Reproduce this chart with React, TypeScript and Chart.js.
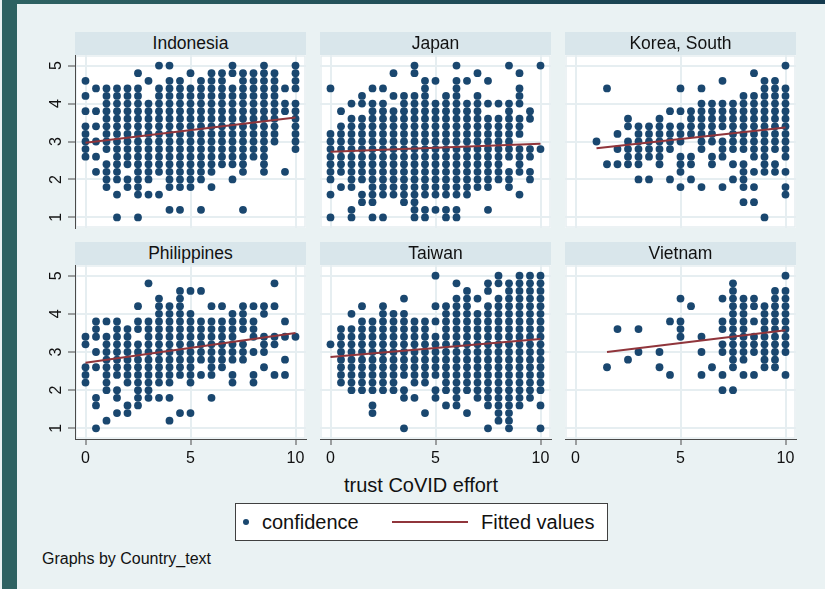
import React, { useEffect, useRef } from "react";
import { Chart, registerables } from "chart.js";

Chart.register(...registerables);

// ---------------- DATA ----------------
const countries = ["Indonesia", "Japan", "Korea, South", "Philippines", "Taiwan", "Vietnam"];

// x values (trust CoVID effort) for the 21 columns of every panel
const xValues = [0, 0.5, 1, 1.5, 2, 2.5, 3, 3.5, 4, 4.5, 5, 5.5, 6, 6.5, 7, 7.5, 8, 8.5, 9, 9.5, 10];

// confidence values present at each x (one string per x value)
const indonesia = [
  "4.6 4.2 3.8 3.4 3.2 3 2.8 2.6",
  "4.4 3.8 3.4 3 2.6 2.2",
  "4.4 4.2 4 3.8 3.6 3.4 3.2 3 2.8 2.4 2.2 2 1.8",
  "4.4 4.2 4 3.8 3.6 3.4 3.2 3 2.8 2.6 2.4 2.2 2 1.6 1",
  "4.4 4.2 4 3.8 3.6 3.4 3.2 3 2.8 2.6 2.4 2 1.8",
  "4.8 4.4 4.2 4 3.8 3.6 3.4 3.2 3 2.8 2.6 2.4 2.2 2 1.8 1.6 1",
  "4.6 4 3.8 3.6 3.4 3.2 3 2.8 2.6 2.4 2.2 2 1.6",
  "5 4.4 4.2 4 3.8 3.6 3.4 3.2 3 2.8 2.6 2.4 2.2 1.6",
  "5 4.6 4.4 4.2 4 3.8 3.6 3.4 3.2 3 2.8 2.6 2.4 2.2 2 1.8 1.2",
  "4.6 4.4 4.2 4 3.8 3.6 3.4 3.2 3 2.8 2.6 2.4 2.2 2 1.8 1.2",
  "4.8 4.4 4.2 4 3.8 3.6 3.4 3.2 3 2.8 2.6 2.4 2.2 2 1.8",
  "4.6 4.4 4.2 4 3.8 3.6 3.4 3.2 3 2.8 2.6 2.4 2.2 2 1.2",
  "4.8 4.6 4.4 4.2 4 3.8 3.6 3.4 3.2 3 2.8 2.6 2.4 2.2 1.8",
  "4.8 4.6 4.4 4.2 4 3.8 3.6 3.4 3.2 3 2.8 2.6 2.4",
  "5 4.8 4.4 4.2 4 3.8 3.6 3.4 3.2 3 2.8 2.6 2.4 2",
  "4.8 4.6 4.4 4.2 4 3.8 3.6 3.4 3.2 3 2.8 2.6 2.4 2.2 1.2",
  "4.8 4.6 4.4 4.2 4 3.8 3.6 3.4 3.2 3 2.8 2.6",
  "5 4.8 4.6 4.4 4.2 4 3.8 3.6 3.4 3.2 3 2.8 2.6 2.4 2.2",
  "4.8 4.6 4.4 4.2 4 3.8 3.6 3.4 3.2 3",
  "4.4 4 3.8 2.2",
  "5 4.8 4.6 4.4 4 3.8 3.6 3.4 3.2 3 2.8",
];

const japan = [
  "4.4 3.2 3 2.8 2.6 2.4 2.2 2 1.6 1",
  "3.8 3.4 3.2 3 2.8 2.6 2.4 2.2 1.8",
  "4 3.6 3.4 3.2 3 2.8 2.6 2.4 2.2 2 1.8 1.2 1",
  "4.2 4 3.6 3.4 3.2 3 2.8 2.6 2.4 2.2 2 1.6 1.4",
  "4.4 4 3.8 3.6 3.4 3.2 3 2.8 2.6 2.4 2.2 2 1.8 1.6 1.4 1",
  "4.4 4 3.8 3.6 3.4 3.2 3 2.8 2.6 2.4 2.2 2 1.8 1.6 1",
  "4.8 4.2 3.8 3.6 3.4 3.2 3 2.8 2.6 2.4 2.2 2 1.8 1.6",
  "4.2 4 3.8 3.6 3.4 3.2 3 2.8 2.6 2.4 2.2 2 1.8 1.6 1.4",
  "5 4.8 4.2 4 3.8 3.6 3.4 3.2 3 2.8 2.6 2.4 2.2 2 1.8 1.6 1.4 1.2 1",
  "4.6 4.4 4.2 4 3.8 3.6 3.4 3.2 3 2.8 2.6 2.4 2.2 2 1.8 1.6 1.2 1",
  "4.6 4 3.8 3.6 3.4 3.2 3 2.8 2.6 2.4 2.2 2 1.8 1.6 1.2",
  "4.2 4 3.8 3.6 3.4 3.2 3 2.8 2.6 2.4 2.2 2 1.8 1.6 1.2 1",
  "5 4.6 4.4 4.2 4 3.8 3.6 3.4 3.2 3 2.8 2.6 2.4 2.2 2 1.8 1.6 1.2 1",
  "4.6 4 3.8 3.6 3.4 3.2 3 2.8 2.6 2.4 2.2 2 1.8 1.6",
  "4.8 4.2 4 3.8 3.6 3.4 3.2 3 2.8 2.6 2.4 2.2 2 1.8",
  "4.6 4 3.6 3.4 3.2 3 2.8 2.6 2.4 2.2 2 1.8 1.2",
  "4 3.6 3.4 3.2 3 2.8 2.6 2.4 2.2 2",
  "5 4 3.8 3.6 3.4 3.2 3 2.8 2.6 2.2 2 1.8",
  "4.8 4.4 4.2 4 3.6 3.4 3.2 2.8 2.6 2.4 2.2 1.6",
  "3.8 3.6 2.8 2.6 2.2 2",
  "5 2.8",
];

const korea = [
  "",
  "",
  "3",
  "4.4 2.4",
  "3.2 2.8 2.4",
  "3.6 3.4 3 2.8 2.6 2.4",
  "3.4 3.2 3 2.8 2.6 2.4 2",
  "3.4 3.2 3 2.8 2.6 2",
  "3.6 3.4 3.2 3 2.8 2.6 2.4",
  "3.8 3.4 3.2 3 2.8 2",
  "4.4 3.8 3.4 3.2 3 2.6 2.4 2.2 1.8",
  "3.8 3.6 3.4 3.2 2.6 2.4 2",
  "4.4 4 3.8 3.6 3.4 3.2 3 2.8 1.8",
  "4 3.8 3.6 3.4 3.2 3 2.6 2.4",
  "4.6 4 3.8 3.6 3.4 3 2.8 2.6 1.8",
  "4 3.8 3.6 3.4 3.2 3 2.8 2.4 2",
  "4.2 4 3.8 3.6 3.4 3.2 3 2.8 2.4 2.2 2 1.8 1.4",
  "4.8 4.2 4 3.8 3.6 3.4 3.2 3 2.8 2.6 2.2 1.8 1.4",
  "4.6 4.4 4.2 4 3.8 3.6 3.4 3.2 3 2.8 2.6 2.4 2.2 1",
  "4.6 4.4 4.2 4 3.8 3.6 3.4 3.2 3 2.8 2.4 2.2",
  "5 4.4 4.2 4 3.8 3.6 3.4 3.2 3 2.8 2.6 2.2 1.8 1.6",
];

const philippines = [
  "3.4 3.2 2.6 2.4 2.2",
  "3.8 3.6 3.4 3 2.6 1.8 1.6 1",
  "3.8 3.4 3.2 3 2.8 2.6 2.4 2.2 2 1.2",
  "3.8 3.6 3.4 3.2 3 2.8 2.6 2.4 2 1.8 1.4",
  "3.6 3.4 3.2 3 2.8 2.6 2.4 2.2 1.6 1.4",
  "4.2 3.8 3.6 3.2 3 2.8 2.6 2.4 2.2 2 1.8 1.6",
  "4.8 3.8 3.6 3.4 3.2 3 2.8 2.6 2.4 2.2 2 1.8",
  "4.4 4.2 4 3.8 3.6 3.4 3.2 3 2.8 2.6 2.4 2.2 1.8",
  "4.2 4 3.8 3.6 3.4 3.2 3 2.8 2.6 2.4 2.2 1.8 1.2",
  "4.6 4.4 4.2 4 3.8 3.6 3.4 3.2 3 2.8 2.6 2.4 1.4",
  "4.6 4 3.8 3.6 3.4 3.2 3 2.8 2.6 2.4 2.2 1.4",
  "4.6 3.8 3.6 3.4 3.2 3 2.8 2.4",
  "4.2 3.8 3.6 3.4 3.2 3 2.8 2.6 2.4 1.8",
  "4.2 3.8 3.6 3.4 3.2 3 2.8 2.6",
  "4 3.8 3.6 3.4 3.2 3 2.8 2.4 2.2",
  "4.2 4 3.8 3.6 3.2 3 2.8",
  "4.2 3.8 3.6 3.4 3 2.4 2.2",
  "4.2 4 3.4 3.2 3 2.6",
  "4.8 4.2 3.4 3.2 2.4",
  "3.8 3.4 2.8 2.4",
  "3.4",
];

const taiwan = [
  "3.2",
  "3.6 3.4 3.2 3 2.8 2.6 2.4 2.2",
  "4 3.6 3.4 3.2 3 2.8 2.6 2.4 2.2 2",
  "4.2 3.8 3.6 3.4 3.2 3 2.8 2.6 2.4 2.2 2",
  "3.8 3.6 3.4 3.2 3 2.8 2.6 2.4 2.2 2 1.6 1.4",
  "4.2 4 3.8 3.6 3.4 3.2 3 2.8 2.6 2.4 2.2 2",
  "4 3.8 3.6 3.4 3.2 3 2.8 2.6 2.4 2.2 2",
  "4.4 4 3.8 3.6 3.4 3.2 3 2.8 2.6 2.4 2 1.8 1",
  "3.8 3.6 3.4 3.2 3 2.8 2.6 2.4 2.2 1.8",
  "3.8 3.6 3.4 3.2 3 2.8 2.6 2.4 2.2 1.4",
  "5 4.2 3.8 3.4 3.2 3 2.8 2.6 2.4 2 1.8",
  "4.2 4 3.8 3.6 3.4 3.2 3 2.8 2.6 2.4 2.2 2 1.6",
  "4.8 4.4 4.2 4 3.8 3.6 3.4 3.2 3 2.8 2.6 2.4 2.2 2 1.8 1.6",
  "4.6 4.4 4.2 4 3.8 3.6 3.4 3.2 3 2.8 2.6 2.4 2.2 2 1.4",
  "4.4 4 3.8 3.6 3.4 3.2 3 2.8 2.6 2.4 2.2 2 1.8",
  "4.8 4.6 4.2 4 3.8 3.6 3.4 3.2 3 2.8 2.6 2.4 2.2 2 1.8 1.6 1",
  "5 4.8 4.4 4.2 4 3.8 3.6 3.4 3.2 3 2.8 2.6 2.4 2.2 2 1.8 1.6 1.4 1.2",
  "4.8 4.6 4.4 4.2 4 3.8 3.6 3.4 3.2 3 2.8 2.6 2.4 2.2 2 1.8 1.6 1.4 1.2 1",
  "5 4.8 4.6 4.4 4.2 4 3.8 3.6 3.4 3.2 3 2.8 2.6 2.4 2.2 2 1.8 1.6",
  "5 4.8 4.6 4.4 4.2 4 3.8 3.6 3.4 3.2 3 2.8 2.6 2.4 2.2 2 1.8",
  "5 4.8 4.6 4.4 4.2 4 3.8 3.6 3.4 3.2 3 2.8 2.6 2.4 2.2 2 1.6 1",
];

const vietnam = [
  "",
  "",
  "",
  "2.6",
  "3.6",
  "2.8",
  "3.6 3",
  "",
  "3 2.6",
  "3.8 2.4",
  "4.4 3.8 3.6 3.4",
  "4.2",
  "3.4 3 2.4",
  "2.6",
  "4.4 3.8 3.6 3.2 3 2.4 2",
  "4.8 4.6 4.4 4.2 4 3.8 3.6 3.4 3.2 3 2.8 2.6 2",
  "4.4 4.2 4 3.8 3.6 3.4 3.2 3 2.8 2.4",
  "4.4 4.2 3.8 3.4 3.2 3 2.4",
  "4.2 4 3.8 3.6 3.4 3.2 3 2.8 2.6",
  "4.6 4.4 4.2 4 3.8 3.6 3.4 3.2 3 2.8 2.6",
  "5 4.6 4.4 4.2 4 3.8 3.6 3.4 3.2 3 2.4",
];

const panelColumns = [indonesia, japan, korea, philippines, taiwan, vietnam];

// fitted-value line end points, per panel
const fitStartX = [0, 0, 1, 0, 0, 1.5];
const fitEndX = [10, 10, 10, 10, 10, 10];
const fitStartY = [2.97, 2.73, 2.82, 2.72, 2.87, 3.0];
const fitEndY = [3.63, 2.94, 3.37, 3.5, 3.34, 3.57];

const xTickValues = [0, 5, 10];
const yTickValues = [1, 2, 3, 4, 5];

// ---------------- STYLE ----------------
const FONT = '"Liberation Sans", Arial, Helvetica, sans-serif';
const MARKER = "#1a476f";
const FITCOL = "#90353b";
const GRID = "#e6eef1";
const AXIS = "#4a4a4a";
const BG = "#eaf2f3";
const HEADER = "#d9e6eb";

const colLeft = [75, 320, 565];
const rowTop = [55, 265];
const plotW = 231;
const plotH = [173, 174];
const PAD = 20;

const parseColumn = (s: string) => (s.trim() ? s.trim().split(/\s+/).map(Number) : []);

const plotBg = {
  id: "plotBg",
  beforeDraw(chart: any) {
    const { ctx, chartArea: a } = chart;
    ctx.save();
    ctx.fillStyle = "#ffffff";
    ctx.fillRect(a.left, a.top, a.width, a.height);
    ctx.strokeStyle = GRID;
    ctx.lineWidth = 1.5;
    ctx.strokeRect(a.left + 1, a.top + 1, a.width - 2, a.height - 2);
    ctx.restore();
  },
};

function Panel({ index }: { index: number }) {
  const ref = useRef<HTMLCanvasElement | null>(null);
  const c = index % 3;
  const r = Math.floor(index / 3);
  const yW = c === 0 ? 28 : 0;
  const xH = r === 1 ? 36 : 0;
  const w = PAD + yW + plotW + PAD;
  const h = PAD + plotH[r] + xH + PAD;
  const left = colLeft[c] - PAD - yW;
  const top = rowTop[r] - PAD;

  useEffect(() => {
    if (!ref.current) return;
    const cols = panelColumns[index];
    const points = xValues.flatMap((x, i) => parseColumn(cols[i]).map((y) => ({ x, y })));
    const fit = [
      { x: fitStartX[index], y: fitStartY[index] },
      { x: fitEndX[index], y: fitEndY[index] },
    ];
    const chart = new Chart(ref.current, {
      type: "scatter",
      data: {
        datasets: [
          {
            label: "Fitted values",
            data: fit,
            showLine: true,
            borderColor: FITCOL,
            borderWidth: 2,
            pointRadius: 0,
            order: 0,
          } as any,
          {
            label: "confidence",
            data: points,
            backgroundColor: MARKER,
            borderWidth: 0,
            pointRadius: 3.9,
            order: 1,
          } as any,
        ],
      },
      options: {
        responsive: false,
        animation: false,
        devicePixelRatio: 1,
        layout: { padding: PAD },
        plugins: { legend: { display: false }, tooltip: { enabled: false }, title: { display: false } },
        scales: {
          x: {
            type: "linear",
            min: -0.5,
            max: 10.5,
            afterBuildTicks: (s: any) => {
              s.ticks = xTickValues.map((v) => ({ value: v }));
            },
            afterFit: (s: any) => {
              s.height = xH;
            },
            grid: {
              color: GRID,
              lineWidth: 2,
              drawTicks: r === 1,
              tickLength: 6,
              tickColor: AXIS,
              tickWidth: 1,
            },
            border: { display: r === 1, color: AXIS, width: 1 },
            ticks: {
              display: r === 1,
              padding: 4,
              color: "#111",
              font: { size: 16, family: FONT },
              maxRotation: 0,
              minRotation: 0,
              autoSkip: false,
            },
          },
          y: {
            type: "linear",
            min: 0.72,
            max: 5.28,
            afterBuildTicks: (s: any) => {
              s.ticks = yTickValues.map((v) => ({ value: v }));
            },
            afterFit: (s: any) => {
              s.width = yW;
            },
            grid: {
              color: GRID,
              lineWidth: 2,
              drawTicks: c === 0,
              tickLength: 7,
              tickColor: AXIS,
              tickWidth: 1,
            },
            border: { display: c === 0, color: AXIS, width: 1 },
            ticks: {
              display: c === 0,
              minRotation: 90,
              maxRotation: 90,
              crossAlign: "center",
              padding: 7,
              color: "#111",
              font: { size: 16, family: FONT },
            },
          },
        },
      } as any,
      plugins: [plotBg],
    });
    return () => chart.destroy();
  }, [index]);

  return (
    <canvas
      ref={ref}
      width={w}
      height={h}
      style={{ position: "absolute", left, top, width: w, height: h, zIndex: 1 }}
    />
  );
}

export default function App() {
  return (
    <div
      style={{
        position: "absolute",
        left: 0,
        top: 0,
        width: 825,
        height: 589,
        background: BG,
        overflow: "hidden",
        fontFamily: FONT,
        color: "#111",
      }}
    >
      <div style={{ position: "absolute", left: 2, top: 0, width: 15, height: 589, background: "#2e6262" }} />
      <div
        style={{
          position: "absolute",
          left: 17,
          top: 0,
          width: 808,
          height: 4,
          background: "linear-gradient(to right, #2e6262, #143a4e)",
        }}
      />
      {countries.map((_, i) => (
        <Panel key={"p" + i} index={i} />
      ))}
      {countries.map((name, i) => {
        const c = i % 3;
        const r = Math.floor(i / 3);
        return (
          <div
            key={"h" + i}
            style={{
              position: "absolute",
              left: colLeft[c],
              top: rowTop[r] - 23,
              width: plotW,
              height: 23,
              background: HEADER,
              textAlign: "center",
              fontSize: 17.5,
              lineHeight: "23px",
              zIndex: 2,
            }}
          >
            {name}
          </div>
        );
      })}
      <div
        style={{
          position: "absolute",
          left: 221,
          top: 473,
          width: 400,
          height: 24,
          textAlign: "center",
          fontSize: 20,
          lineHeight: "24px",
        }}
      >
        trust CoVID effort
      </div>
      <div
        style={{
          position: "absolute",
          left: 235,
          top: 503,
          width: 373,
          height: 38,
          boxSizing: "border-box",
          border: "1px solid #404040",
          background: "#ffffff",
        }}
      >
        <div
          style={{
            position: "absolute",
            left: 6.7,
            top: 14.7,
            width: 6,
            height: 6,
            borderRadius: 3,
            background: MARKER,
          }}
        />
        <div style={{ position: "absolute", left: 26, top: 6.5, fontSize: 20, lineHeight: "22px", whiteSpace: "nowrap" }}>
          confidence
        </div>
        <div style={{ position: "absolute", left: 156, top: 16.5, width: 76, height: 2, background: FITCOL }} />
        <div style={{ position: "absolute", left: 245, top: 6.5, fontSize: 20, lineHeight: "22px", whiteSpace: "nowrap" }}>
          Fitted values
        </div>
      </div>
      <div
        style={{
          position: "absolute",
          left: 42,
          top: 548.5,
          fontSize: 16,
          lineHeight: "19px",
          whiteSpace: "nowrap",
        }}
      >
        Graphs by Country_text
      </div>
    </div>
  );
}
